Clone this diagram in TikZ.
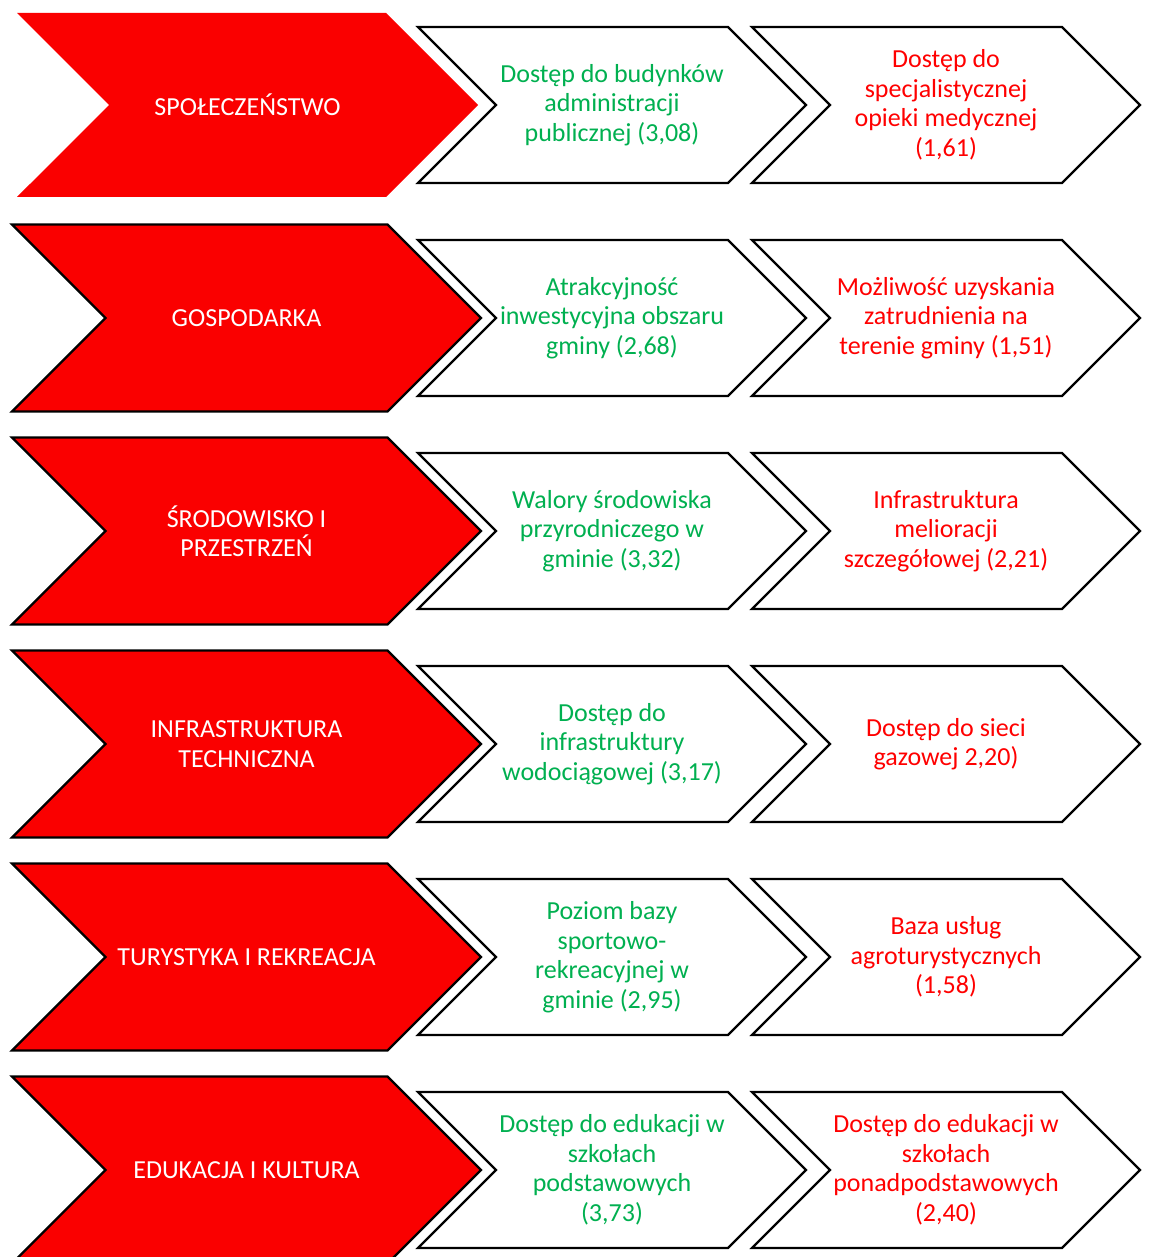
\documentclass[tikz,border=0pt]{standalone}
\usepackage{fontspec}
\setmainfont{Carlito}
\usetikzlibrary{shapes.symbols}
\definecolor{obszarred}{HTML}{FA0000}
\definecolor{okgreen}{HTML}{00B050}
\definecolor{badred}{HTML}{FF0000}
\tikzset{
  strzalka/.style={signal, signal to=east, signal from=west, signal pointer angle=90,
                   inner sep=0pt, align=center, line width=2.2pt,
                   font=\fontsize{26}{29.5}\selectfont},
  obszar/.style={strzalka, fill=obszarred, draw=black, text=white,
                 minimum width=469pt, minimum height=187pt},
  ocena/.style={strzalka, fill=white, draw=black, text=#1,
                minimum width=388pt, minimum height=156pt},
}

\begin{document}
\begin{tikzpicture}[x=1pt, y=-1pt]
    \useasboundingbox (0,0) rectangle (1154,1257);
    % SPOLECZENSTWO
    \node[obszar, draw=none, minimum width=461pt, minimum height=184pt] (o1) at (247.5,105)
      {SPOŁECZEŃSTWO};
    \node[ocena=okgreen] (g1) at (612,105)
      {Dostęp do budynków\\administracji\\publicznej (3,08)};
    \node[ocena=badred] (r1) at (946,105)
      {Dostęp do\\specjalistycznej\\opieki medycznej\\(1,61)};
    % GOSPODARKA
    \node[obszar] (o2) at (246.5,318) {GOSPODARKA};
    \node[ocena=okgreen] (g2) at (612,318)
      {Atrakcyjność\\inwestycyjna obszaru\\gminy (2,68)};
    \node[ocena=badred] (r2) at (946,318)
      {Możliwość uzyskania\\zatrudnienia na\\terenie gminy (1,51)};
    % SRODOWISKO
    \node[obszar] (o3) at (246.5,531) {ŚRODOWISKO I\\PRZESTRZEŃ};
    \node[ocena=okgreen] (g3) at (612,531)
      {Walory środowiska\\przyrodniczego w\\gminie (3,32)};
    \node[ocena=badred] (r3) at (946,531)
      {Infrastruktura\\melioracji\\szczegółowej (2,21)};
    % INFRASTRUKTURA
    \node[obszar] (o4) at (246.5,744) {INFRASTRUKTURA\\TECHNICZNA};
    \node[ocena=okgreen] (g4) at (612,744)
      {Dostęp do\\infrastruktury\\wodociągowej (3,17)};
    \node[ocena=badred] (r4) at (946,744)
      {Dostęp do sieci\\gazowej 2,20)};
    % TURYSTYKA
    \node[obszar] (o5) at (246.5,957) {TURYSTYKA I REKREACJA};
    \node[ocena=okgreen] (g5) at (612,957)
      {Poziom bazy\\sportowo-\\rekreacyjnej w\\gminie (2,95)};
    \node[ocena=badred] (r5) at (946,957)
      {Baza usług\\agroturystycznych\\(1,58)};
    % EDUKACJA
    \node[obszar] (o6) at (246.5,1170) {EDUKACJA I KULTURA};
    \node[ocena=okgreen] (g6) at (612,1170)
      {Dostęp do edukacji w\\szkołach\\podstawowych\\(3,73)};
    \node[ocena=badred] (r6) at (946,1170)
      {Dostęp do edukacji w\\szkołach\\ponadpodstawowych\\(2,40)};
  \end{tikzpicture}
\end{document}
